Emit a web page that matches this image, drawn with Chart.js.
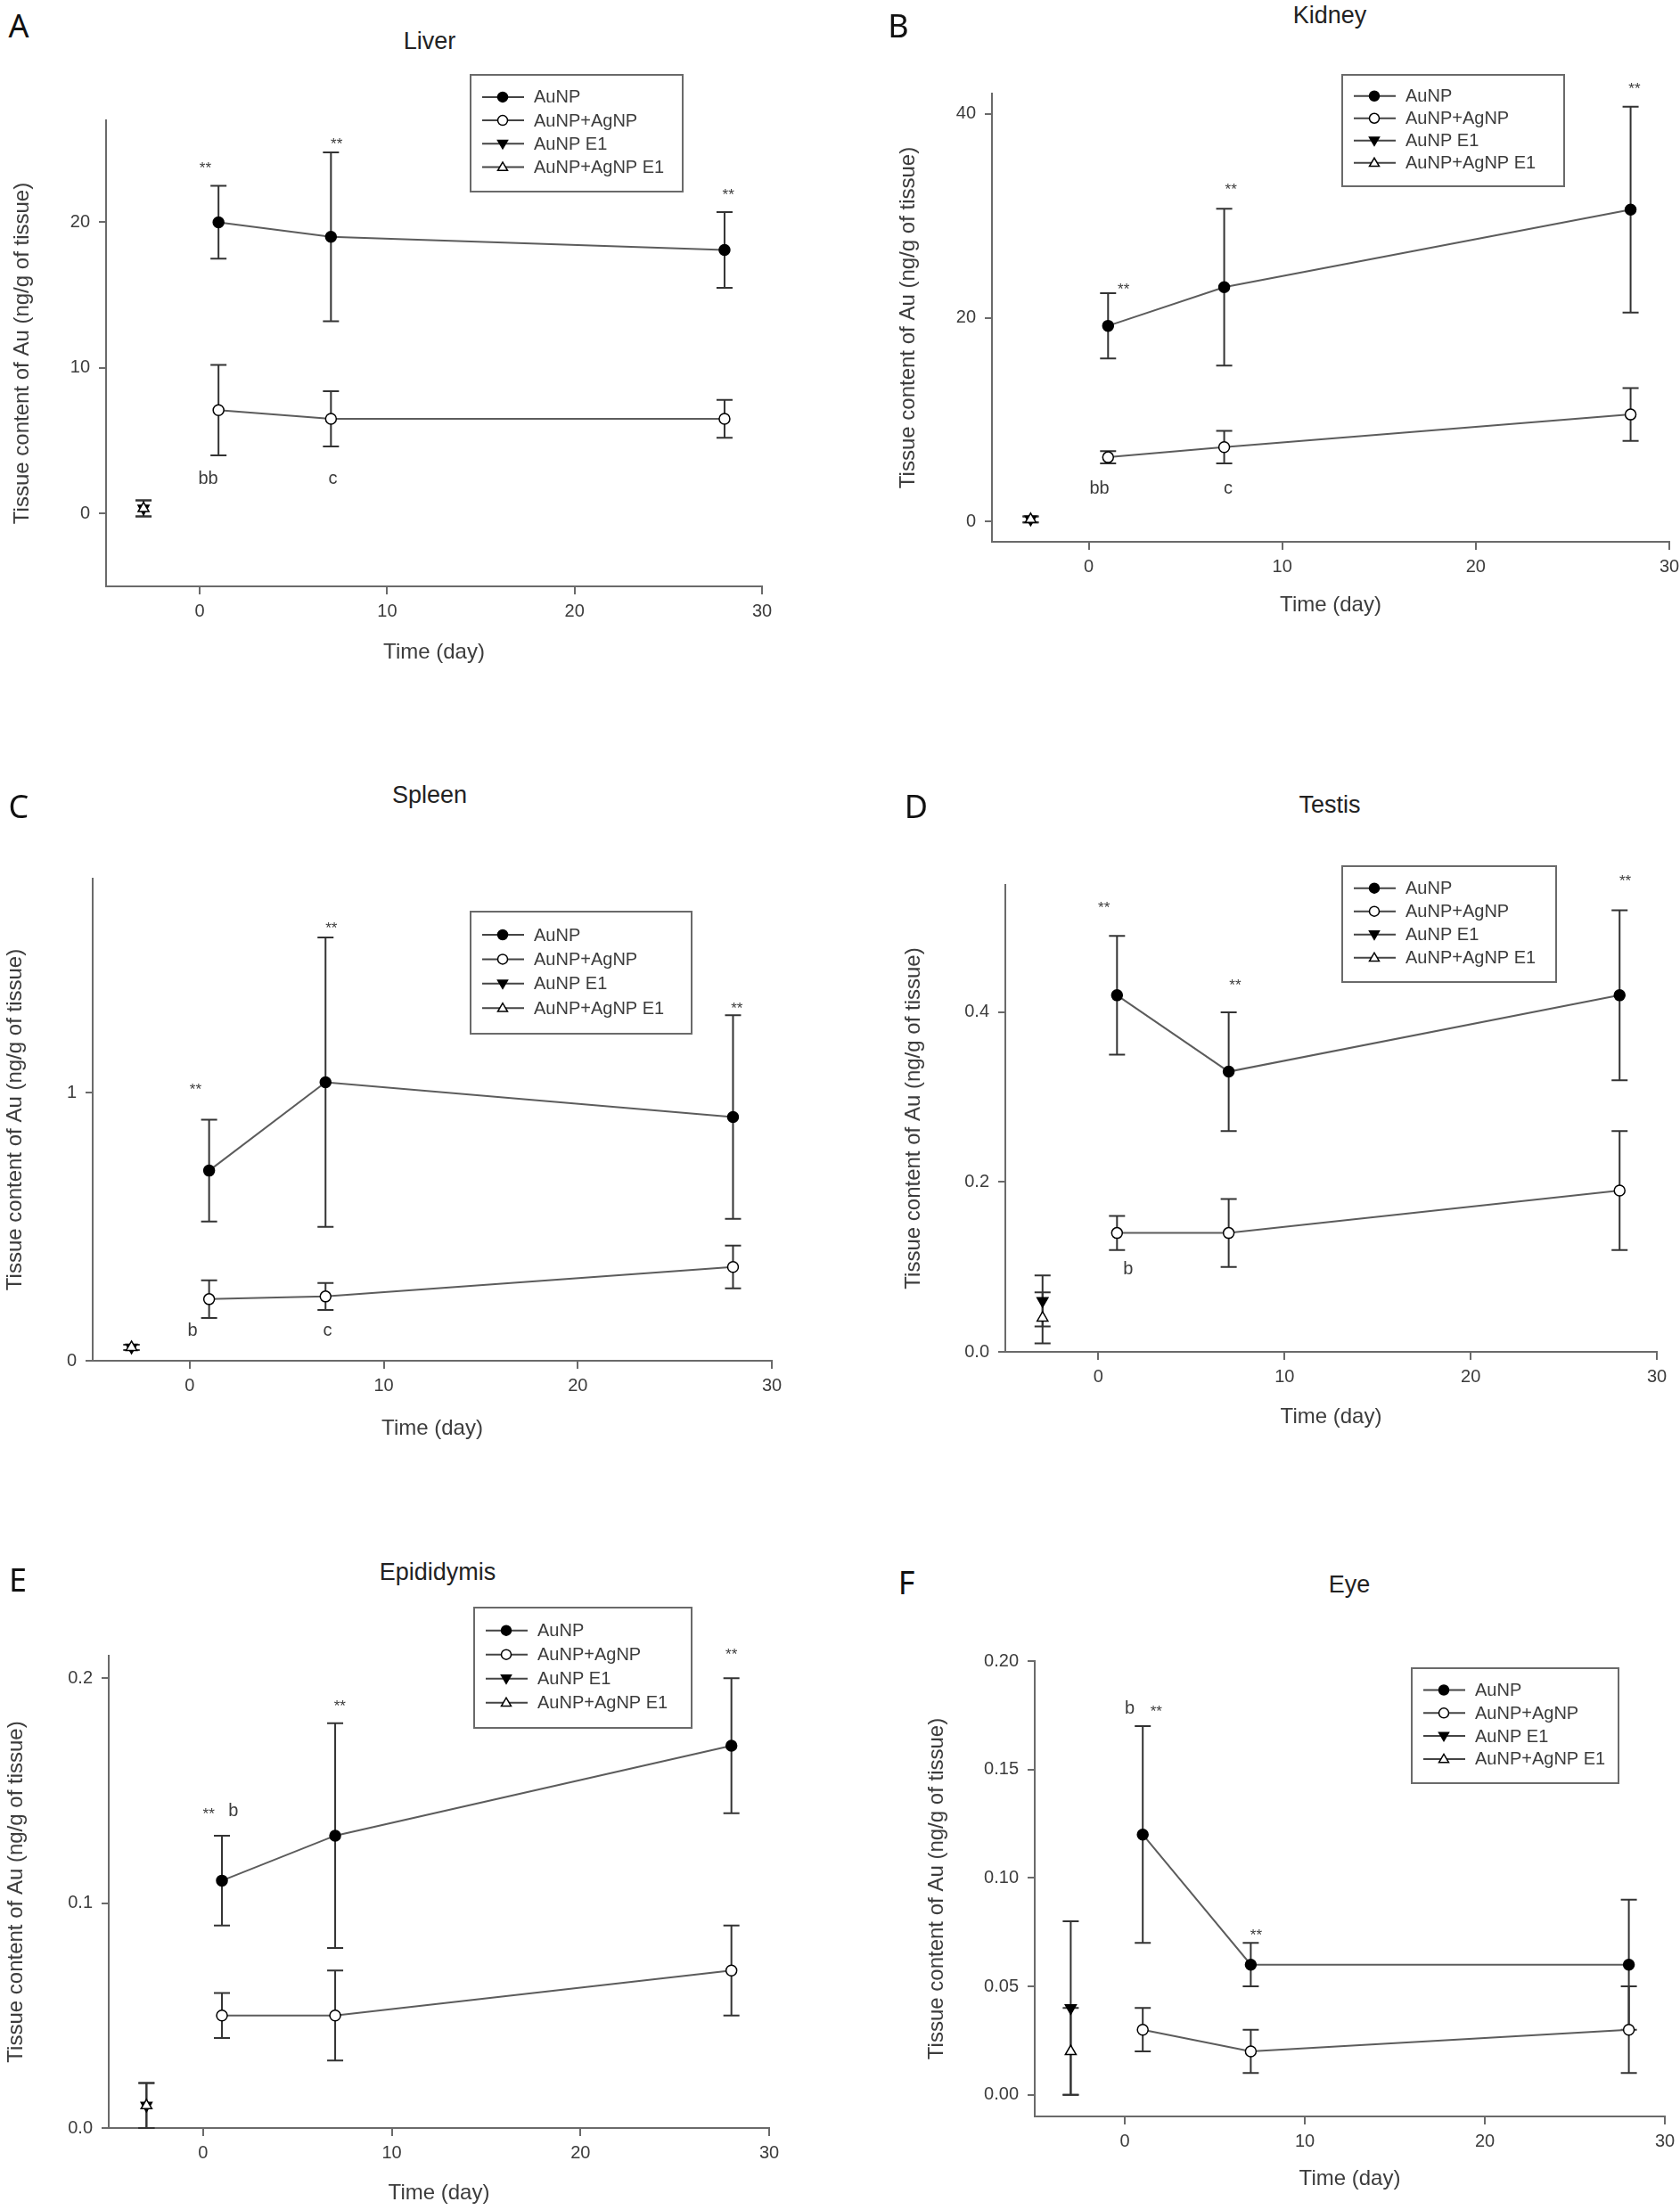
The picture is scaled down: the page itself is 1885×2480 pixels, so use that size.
<!DOCTYPE html>
<html>
<head>
<meta charset="utf-8">
<script src="https://cdn.jsdelivr.net/npm/chart.js@4.4.0/dist/chart.umd.min.js"></script>
<style>
body{margin:0;background:#fff;width:1885px;height:2480px;position:relative;overflow:hidden;font-family:"Liberation Sans",Arial,sans-serif}
canvas{position:absolute}
.lbl{position:absolute;transform:translate(-50%,-50%);white-space:nowrap}
.letter{font-family:"Noto Sans",sans-serif;font-size:36px;color:#111}
.title{font-size:27px;color:#222}
</style>
</head>
<body>
<script>
// time points
const days = [1, 7, 28]
const preDay = [-3]
const xTicks = [0, 10, 20, 30]
const legendNames = ['AuNP', 'AuNP+AgNP', 'AuNP E1', 'AuNP+AgNP E1']

// A liver
const liverAu = [20.0, 19.0, 18.1]
const liverAuErr = [2.5, 5.8, 2.6]
const liverAuAg = [7.1, 6.5, 6.5]
const liverAuAgErr = [3.1, 1.9, 1.3]
const liverE1 = [0.35], liverE1Err = [0.55]
const liverAgE1 = [0.35], liverAgE1Err = [0.55]
const liverTicks = [0, 10, 20]
const liverNotes = [[0.3, 23.9, '**'], [7.3, 25.6, '**'], [28.2, 22.1, '**'], [0.45, 2.4, 'bb'], [7.1, 2.4, 'c']]

// B kidney
const kidneyAu = [19.2, 23.0, 30.6]
const kidneyAuErr = [3.2, 7.7, 10.1]
const kidneyAuAg = [6.3, 7.3, 10.5]
const kidneyAuAgErr = [0.6, 1.6, 2.6]
const kidneyE1 = [0.2], kidneyE1Err = [0.3]
const kidneyAgE1 = [0.2], kidneyAgE1Err = [0.3]
const kidneyTicks = [0, 20, 40]
const kidneyNotes = [[1.8, 23.1, '**'], [7.35, 32.9, '**'], [28.2, 42.8, '**'], [0.55, 3.2, 'bb'], [7.2, 3.2, 'c']]

// C spleen
const spleenAu = [0.71, 1.04, 0.91]
const spleenAuErr = [0.19, 0.54, 0.38]
const spleenAuAg = [0.23, 0.24, 0.35]
const spleenAuAgErr = [0.07, 0.05, 0.08]
const spleenE1 = [0.05], spleenE1Err = [0.01]
const spleenAgE1 = [0.05], spleenAgE1Err = [0.01]
const spleenTicks = [0, 1]
const spleenNotes = [[0.3, 1.025, '**'], [7.3, 1.625, '**'], [28.2, 1.325, '**'], [0.15, 0.11, 'b'], [7.1, 0.11, 'c']]

// D testis
const testisAu = [0.42, 0.33, 0.42]
const testisAuErr = [0.07, 0.07, 0.10]
const testisAuAg = [0.14, 0.14, 0.19]
const testisAuAgErr = [0.02, 0.04, 0.07]
const testisE1 = [0.06], testisE1Err = [0.03]
const testisAgE1 = [0.04], testisAgE1Err = [0.03]
const testisTicks = [0, 0.2, 0.4]
const testisNotes = [[0.3, 0.527, '**'], [7.35, 0.435, '**'], [28.3, 0.558, '**'], [1.6, 0.097, 'b']]

// E epididymis
const epiAu = [0.11, 0.13, 0.17]
const epiAuErr = [0.02, 0.05, 0.03]
const epiAuAg = [0.05, 0.05, 0.07]
const epiAuAgErr = [0.01, 0.02, 0.02]
const epiE1 = [0.01], epiE1Err = [0.01]
const epiAgE1 = [0.01], epiAgE1Err = [0.01]
const epiTicks = [0, 0.1, 0.2]
const epiNotes = [[0.3, 0.141, '**'], [1.6, 0.141, 'b'], [7.25, 0.189, '**'], [28, 0.212, '**']]

// F eye
const eyeAu = [0.12, 0.06, 0.06]
const eyeAuErr = [0.05, 0.01, 0.03]
const eyeAuAg = [0.03, 0.02, 0.03]
const eyeAuAgErr = [0.01, 0.01, 0.02]
const eyeE1 = [0.04], eyeE1Err = [0.04]
const eyeAgE1 = [0.02], eyeAgE1Err = [0.02]
const eyeTicks = [0, 0.05, 0.10, 0.15, 0.20]
const eyeNotes = [[0.27, 0.178, 'b'], [1.75, 0.178, '**'], [7.3, 0.075, '**']]

const panels = [
  {letter:'A', name:'Liver', au:liverAu, auErr:liverAuErr, ag:liverAuAg, agErr:liverAuAgErr, e1:liverE1, e1Err:liverE1Err, agE1:liverAgE1, agE1Err:liverAgE1Err, ticks:liverTicks, dec:0, notes:liverNotes,
   ymin:-5, ymax:27, g:{ax:119, top:135, right:855, bottom:658, ytx:25, xty:732, legend:[528,84,766,215], title:[482,46], lt:[21,28]}},
  {letter:'B', name:'Kidney', au:kidneyAu, auErr:kidneyAuErr, ag:kidneyAuAg, agErr:kidneyAuAgErr, e1:kidneyE1, e1Err:kidneyE1Err, agE1:kidneyAgE1, agE1Err:kidneyAgE1Err, ticks:kidneyTicks, dec:0, notes:kidneyNotes,
   ymin:-2, ymax:42, g:{ax:1113, top:105, right:1873, bottom:608, ytx:1019, xty:679, legend:[1506,84,1755,209], title:[1492,17], lt:[1008,28]}},
  {letter:'C', name:'Spleen', au:spleenAu, auErr:spleenAuErr, ag:spleenAuAg, agErr:spleenAuAgErr, e1:spleenE1, e1Err:spleenE1Err, agE1:spleenAgE1, agE1Err:spleenAgE1Err, ticks:spleenTicks, dec:0, notes:spleenNotes,
   ymin:0, ymax:1.8, g:{ax:104, top:986, right:866, bottom:1527, ytx:17, xty:1603, legend:[528,1023,776,1160], title:[482,892], lt:[21,904]}},
  {letter:'D', name:'Testis', au:testisAu, auErr:testisAuErr, ag:testisAuAg, agErr:testisAuAgErr, e1:testisE1, e1Err:testisE1Err, agE1:testisAgE1, agE1Err:testisAgE1Err, ticks:testisTicks, dec:1, notes:testisNotes,
   ymin:0, ymax:0.55, g:{ax:1128, top:993, right:1859, bottom:1517, ytx:1025, xty:1590, legend:[1506,972,1746,1102], title:[1492,903], lt:[1028,904]}},
  {letter:'E', name:'Epididymis', au:epiAu, auErr:epiAuErr, ag:epiAuAg, agErr:epiAuAgErr, e1:epiE1, e1Err:epiE1Err, agE1:epiAgE1, agE1Err:epiAgE1Err, ticks:epiTicks, dec:1, notes:epiNotes,
   ymin:0, ymax:0.21, g:{ax:122, top:1858, right:863, bottom:2388, ytx:18, xty:2461, legend:[532,1804,776,1939], title:[491,1764], lt:[20,1772]}},
  {letter:'F', name:'Eye', au:eyeAu, auErr:eyeAuErr, ag:eyeAuAg, agErr:eyeAuAgErr, e1:eyeE1, e1Err:eyeE1Err, agE1:eyeAgE1, agE1Err:eyeAgE1Err, ticks:eyeTicks, dec:2, notes:eyeNotes,
   ymin:-0.01, ymax:0.2, g:{ax:1161, top:1864, right:1868, bottom:2375, ytx:1051, xty:2445, legend:[1584,1872,1816,2001], title:[1514,1778], lt:[1017,1775]}}
]

const axisColor = '#6a6a6a'
const textColor = '#3c3c3c'
const font = '"Liberation Sans", Arial, sans-serif'

function pts(xs, ys){
  return xs.map((x, i) => ({x: x, y: ys[i]}))
}

function marker(ctx, style, x, y, r, fill){
  ctx.beginPath()
  if(style == 'circle'){
    ctx.arc(x, y, r, 0, Math.PI * 2)
  }else if(style == 'down'){
    ctx.moveTo(x - r, y - r * 0.7); ctx.lineTo(x + r, y - r * 0.7); ctx.lineTo(x, y + r); ctx.closePath()
  }else{
    ctx.moveTo(x - r, y + r * 0.7); ctx.lineTo(x + r, y + r * 0.7); ctx.lineTo(x, y - r); ctx.closePath()
  }
  ctx.fillStyle = fill
  ctx.fill()
  ctx.lineWidth = 1.5
  ctx.strokeStyle = '#000'
  ctx.stroke()
}

const errorBars = {
  id: 'errorBars',
  beforeDatasetsDraw(chart){
    const ctx = chart.ctx, xs = chart.scales.x, ys = chart.scales.y
    ctx.save()
    ctx.strokeStyle = '#333'
    ctx.lineWidth = 2
    chart.data.datasets.forEach(ds => {
      ds.data.forEach((p, i) => {
        const e = ds.errors[i]
        const x = xs.getPixelForValue(p.x)
        const y1 = ys.getPixelForValue(p.y + e)
        const y2 = ys.getPixelForValue(p.y - e)
        ctx.beginPath()
        ctx.moveTo(x, y1); ctx.lineTo(x, y2)
        ctx.moveTo(x - 9, y1); ctx.lineTo(x + 9, y1)
        ctx.moveTo(x - 9, y2); ctx.lineTo(x + 9, y2)
        ctx.stroke()
      })
    })
    ctx.restore()
  }
}

const notesPlugin = {
  id: 'notes',
  afterDraw(chart, args, opts){
    const ctx = chart.ctx, xs = chart.scales.x, ys = chart.scales.y
    ctx.save()
    ctx.fillStyle = textColor
    ctx.textAlign = 'center'
    ctx.textBaseline = 'middle'
    opts.items.forEach(n => {
      const x = xs.getPixelForValue(n[0])
      let y = ys.getPixelForValue(n[1])
      if(n[2] == '**'){
        ctx.font = '17px ' + font
        y += 4
      }else{
        ctx.font = '20px ' + font
      }
      ctx.fillText(n[2], x, y)
    })
    ctx.restore()
  }
}

const boxLegend = {
  id: 'boxLegend',
  afterDraw(chart, args, opts){
    const ctx = chart.ctx
    const [l, t, r, b] = opts.box
    const h = b - t
    ctx.save()
    ctx.strokeStyle = axisColor
    ctx.lineWidth = 2
    ctx.strokeRect(l, t, r - l, h)
    const styles = ['circle', 'circle', 'down', 'up']
    const fills = ['#000', '#fff', '#000', '#fff']
    ctx.font = '20px ' + font
    ctx.textBaseline = 'middle'
    legendNames.forEach((name, i) => {
      const y = t + h * (0.19 + 0.2 * i)
      ctx.strokeStyle = '#444'
      ctx.lineWidth = 2
      ctx.beginPath()
      ctx.moveTo(l + 13, y); ctx.lineTo(l + 60, y)
      ctx.stroke()
      marker(ctx, styles[i], l + 36, y, 5.5, fills[i])
      ctx.fillStyle = textColor
      ctx.fillText(name, l + 71, y + 1)
    })
    ctx.restore()
  }
}

function addLabel(text, x, y, cls){
  const d = document.createElement('div')
  d.className = 'lbl ' + cls
  d.textContent = text
  d.style.left = x + 'px'
  d.style.top = y + 'px'
  document.body.appendChild(d)
}

function series(label, xs, ys, err, style, fill, line, order){
  return {
    label: label,
    data: pts(xs, ys),
    errors: err,
    showLine: line,
    order: order,
    borderColor: '#5c5c5c',
    borderWidth: 2,
    pointStyle: style == 'circle' ? 'circle' : 'triangle',
    pointRotation: style == 'down' ? 180 : 0,
    pointRadius: style == 'circle' ? 6 : 7,
    pointBackgroundColor: fill,
    pointBorderColor: '#000',
    pointBorderWidth: 1.5
  }
}

panels.forEach(p => {
  const g = p.g
  const padTop = 70, padRight = 22
  const left = g.ytx - 14
  const top = g.top - padTop
  const bottomEdge = g.xty + 15
  const w = g.right + padRight - left
  const h = bottomEdge - top

  const canvas = document.createElement('canvas')
  canvas.width = w
  canvas.height = h
  canvas.style.left = left + 'px'
  canvas.style.top = top + 'px'
  canvas.style.width = w + 'px'
  canvas.style.height = h + 'px'
  document.body.appendChild(canvas)

  addLabel(p.letter, g.lt[0], g.lt[1], 'letter')
  addLabel(p.name, g.title[0], g.title[1], 'title')

  new Chart(canvas, {
    type: 'scatter',
    data: {
      datasets: [
        series('AuNP', days, p.au, p.auErr, 'circle', '#000', true, 0),
        series('AuNP+AgNP', days, p.ag, p.agErr, 'circle', '#fff', true, 1),
        series('AuNP E1', preDay, p.e1, p.e1Err, 'down', '#000', false, 3),
        series('AuNP+AgNP E1', preDay, p.agE1, p.agE1Err, 'up', '#fff', false, 2)
      ]
    },
    options: {
      responsive: false,
      animation: false,
      devicePixelRatio: 1,
      layout: {padding: {left: 0, top: padTop, right: padRight, bottom: 0}},
      plugins: {
        legend: {display: false},
        tooltip: {enabled: false},
        notes: {items: p.notes},
        boxLegend: {box: [g.legend[0] - left, g.legend[1] - top, g.legend[2] - left, g.legend[3] - top]}
      },
      scales: {
        x: {
          type: 'linear',
          min: -5,
          max: 30,
          afterBuildTicks: s => { s.ticks = xTicks.map(v => ({value: v})) },
          afterFit: s => { s.height = bottomEdge - g.bottom; s.paddingLeft = 0; s.paddingRight = 0 },
          ticks: {color: textColor, font: {family: font, size: 20}, padding: 7, maxRotation: 0},
          grid: {drawOnChartArea: false, tickLength: 9, color: axisColor, lineWidth: 2},
          border: {color: axisColor, width: 2},
          title: {display: true, text: 'Time (day)', color: textColor, font: {family: font, size: 24}, padding: 0}
        },
        y: {
          type: 'linear',
          min: p.ymin,
          max: p.ymax,
          afterBuildTicks: s => { s.ticks = p.ticks.map(v => ({value: v})) },
          afterFit: s => { s.width = g.ax - left; s.paddingTop = 0; s.paddingBottom = 0 },
          ticks: {color: textColor, font: {family: font, size: 20}, padding: 10, callback: v => v.toFixed(p.dec)},
          grid: {drawOnChartArea: false, tickLength: 8, color: axisColor, lineWidth: 2},
          border: {color: axisColor, width: 2},
          title: {display: true, text: 'Tissue content of Au (ng/g of tissue)', color: textColor, font: {family: font, size: 24}, padding: 0}
        }
      }
    },
    plugins: [errorBars, notesPlugin, boxLegend]
  })
})
</script>
</body>
</html>
